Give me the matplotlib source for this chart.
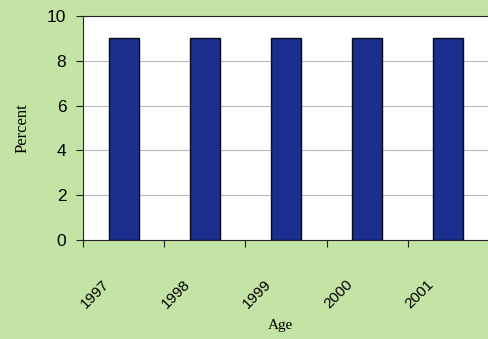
import matplotlib
matplotlib.use('Agg')
import matplotlib.pyplot as plt
import matplotlib.transforms as mtransforms

years = ['1997', '1998', '1999', '2000', '2001']
percent = [9, 9, 9, 9, 9]

bg = '#c4e4a6'
fig = plt.figure(figsize=(4.88, 3.39), dpi=100, facecolor=bg)
ax = fig.add_axes([0.170, 0.292, 0.832, 0.661])
ax.set_facecolor('white')

x = list(range(len(years)))
ax.bar(x, percent, width=0.37, color='#1b2f8e', edgecolor='#0a0a1a', linewidth=1, zorder=3)

ax.set_ylim(0, 10)
ax.set_xlim(-0.5, len(years) - 0.5)
ax.set_yticks([0, 2, 4, 6, 8, 10])
ax.yaxis.grid(True, color='#b8b8b8', linewidth=0.8, zorder=0)

# boundaries get the tick marks, centres get the labels
ax.set_xticks([i - 0.5 for i in range(len(years) + 1)])
ax.set_xticklabels([])
ax.set_xticks(x, minor=True)
ax.set_xticklabels(years, minor=True, rotation=45, ha='right', rotation_mode='anchor',
                   fontsize=11, family='Liberation Sans')
ax.tick_params(axis='x', which='minor', length=0, pad=27)
ax.tick_params(axis='x', which='major', length=5, direction='out', color='#222222')
ax.tick_params(axis='y', length=5, direction='out', labelsize=12.5, pad=7, color='#222222')
for lab in ax.get_yticklabels():
    lab.set_family('Liberation Sans')
for lab in ax.get_xticklabels(minor=True):
    lab.set_transform(lab.get_transform() + mtransforms.ScaledTranslation(-0.22, 0, fig.dpi_scale_trans))

for side in ['left', 'bottom', 'top']:
    ax.spines[side].set_color('#222222')
ax.spines['right'].set_visible(False)

ax.set_ylabel('Percent', family='Liberation Serif', fontsize=12, labelpad=12)
fig.text(0.575, 0.04, 'Age', family='Liberation Serif', fontsize=11, ha='center', va='center')

fig.savefig('out.png', dpi=100, facecolor=bg)
